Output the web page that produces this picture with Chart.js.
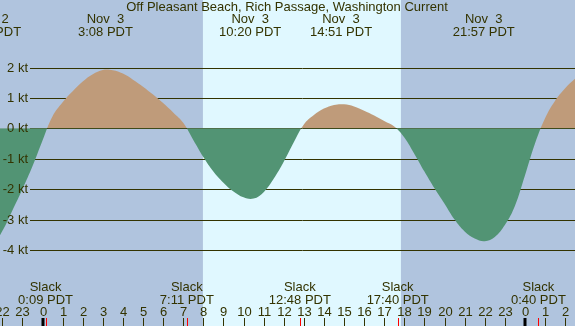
<!DOCTYPE html>
<html>
<head>
<meta charset="utf-8">
<script src="https://cdn.jsdelivr.net/npm/chart.js@4.4.1/dist/chart.umd.min.js"></script>
<style>
  html, body { margin: 0; padding: 0; background: #b0c4de; }
  canvas { display: block; }
</style>
</head>
<body>
<canvas id="currentChart" width="575" height="326"></canvas>
<script>
const hours = [-3, -2.5, -2, -1.5, -1, -0.5, 0, 0.5, 1, 1.5, 2, 2.5, 3, 3.5, 4, 4.5, 5, 5.5, 6, 6.5,
    7, 7.5, 8, 8.5, 9, 9.5, 10, 10.5, 11, 11.5, 12, 12.5, 13, 13.5, 14, 14.5, 15, 15.5, 16, 16.5,
    17, 17.5, 18, 18.5, 19, 19.5, 20, 20.5, 21, 21.5, 22, 22.5, 23, 23.5, 24, 24.5, 25, 25.5, 26, 26.5, 27];
const speeds = [-4.0, -3.85, -3.38, -2.7, -2.0, -1.25, -0.4, 0.4, 0.86, 1.22, 1.54, 1.78, 1.92, 1.91, 1.8, 1.6, 1.37, 1.11, 0.83, 0.52,
    0.18, -0.38, -0.94, -1.42, -1.79, -2.08, -2.27, -2.31, -2.1, -1.66, -1.1, -0.46, 0.13, 0.44, 0.65, 0.77, 0.79, 0.72, 0.58, 0.42,
    0.24, 0.06, -0.3, -0.84, -1.42, -1.97, -2.48, -3.0, -3.39, -3.62, -3.71, -3.57, -3.18, -2.55, -1.55, -0.5, 0.33, 0.91, 1.32, 1.64, 1.9];

// max flood / max ebb labels along the top
const peakHours = [-2.61, 3.13, 10.33, 14.85, 21.95];
const peakDates = ['Nov  2', 'Nov  3', 'Nov  3', 'Nov  3', 'Nov  3'];
const peakTimes = ['21:23 PDT', '3:08 PDT', '10:20 PDT', '14:51 PDT', '21:57 PDT'];

// slack water labels along the bottom
const slackHours = [0.15, 7.18, 12.8, 17.67, 24.67];
const slackTimes = ['0:09 PDT', '7:11 PDT', '12:48 PDT', '17:40 PDT', '0:40 PDT'];

// hour axis
const tickHours  = [-2, -1, 0, 1, 2, 3, 4, 5, 6, 7, 8, 9, 10, 11, 12, 13, 14, 15, 16, 17, 18, 19, 20, 21, 22, 23, 24, 25, 26];
const tickLabels = ['22', '23', '0', '1', '2', '3', '4', '5', '6', '7', '8', '9', '10', '11', '12', '13', '14', '15', '16', '17', '18', '19', '20', '21', '22', '23', '0', '1', '2'];
const midnights  = [0, 24];

// knot levels
const ktLevels = [2, 1, 0, -1, -2, -3, -4];

// daylight
const sunrise = 7.98;
const sunset = 17.83;

const title = 'Off Pleasant Beach, Rich Passage, Washington Current';

const textColor = '#333300';
const font = '13px "Liberation Sans", Arial, sans-serif';

const tidePlugin = {
    id: 'tidePlugin',
    beforeDraw(chart) {
        const ctx = chart.ctx;
        const x = chart.scales.x;
        ctx.save();
        ctx.fillStyle = '#b0c4de';
        ctx.fillRect(0, 0, chart.width, chart.height);
        ctx.fillStyle = '#e0f8ff';
        const x1 = x.getPixelForValue(sunrise);
        const x2 = x.getPixelForValue(sunset);
        ctx.fillRect(x1, 0, x2 - x1, chart.height);
        ctx.restore();
    },
    beforeDatasetsDraw(chart) {
        //grid lines sit behind the filled curve
        const ctx = chart.ctx;
        const y = chart.scales.y;
        ctx.save();
        ctx.strokeStyle = textColor;
        ctx.lineWidth = 1;
        for (const kt of ktLevels) {
            const py = Math.round(y.getPixelForValue(kt)) + 0.5;
            ctx.beginPath();
            ctx.moveTo(30, py);
            ctx.lineTo(chart.width, py);
            ctx.stroke();
        }
        ctx.restore();
    },
    afterDraw(chart) {
        const ctx = chart.ctx;
        const x = chart.scales.x;
        const y = chart.scales.y;
        const h = chart.height;
        ctx.save();
        ctx.fillStyle = textColor;
        ctx.font = font;
        ctx.textBaseline = 'middle';

        ctx.textAlign = 'right';
        for (const kt of ktLevels) {
            ctx.fillText(kt + ' kt', 28, Math.round(y.getPixelForValue(kt)) + 0.5);
        }

        ctx.textAlign = 'center';
        ctx.fillText(title, 287, 7);

        peakHours.forEach((t, i) => {
            const px = x.getPixelForValue(t);
            ctx.fillText(peakDates[i], px, 19);
            ctx.fillText(peakTimes[i], px, 32);
        });

        slackHours.forEach((t, i) => {
            const px = x.getPixelForValue(t);
            ctx.fillText('Slack', px, 287);
            ctx.fillText(slackTimes[i], px, 300);
        });

        tickHours.forEach((t, i) => {
            const px = Math.round(x.getPixelForValue(t)) + 0.5;
            ctx.fillText(tickLabels[i], px, 312);
            ctx.strokeStyle = textColor;
            ctx.lineWidth = 1;
            ctx.beginPath();
            ctx.moveTo(px, 318);
            ctx.lineTo(px, h);
            ctx.stroke();
        });

        ctx.fillStyle = '#000000';
        for (const m of midnights) {
            const px = x.getPixelForValue(m);
            ctx.fillRect(Math.round(px) - 1.5, 318, 3, h - 318);
        }

        ctx.strokeStyle = '#ff0000';
        for (const t of slackHours) {
            const px = Math.round(x.getPixelForValue(t)) + 0.5;
            ctx.beginPath();
            ctx.moveTo(px, 318);
            ctx.lineTo(px, h);
            ctx.stroke();
        }
        ctx.restore();
    }
};

new Chart(document.getElementById('currentChart'), {
    type: 'line',
    data: {
        datasets: [{
            label: 'Current',
            data: hours.map((t, i) => ({ x: t, y: speeds[i] })),
            borderWidth: 0,
            borderColor: 'rgba(0,0,0,0)',
            pointRadius: 0,
            tension: 0.4,
            fill: {
                target: 'origin',
                above: '#bf9b7a',
                below: '#529474'
            }
        }]
    },
    options: {
        responsive: false,
        animation: false,
        devicePixelRatio: 1,
        layout: { padding: 0 },
        plugins: {
            legend: { display: false },
            tooltip: { enabled: false }
        },
        scales: {
            x: { type: 'linear', display: false, min: -2.115, max: 26.49 },
            y: { type: 'linear', display: false, min: -6.5, max: 4.22 }
        }
    },
    plugins: [tidePlugin]
});
</script>
</body>
</html>
